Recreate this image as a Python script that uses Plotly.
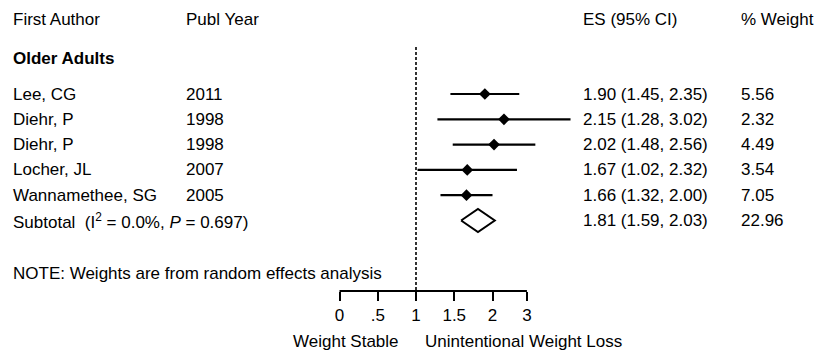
import plotly.graph_objects as go

authors = ["Lee, CG", "Diehr, P", "Diehr, P", "Locher, JL", "Wannamethee, SG"]
years = ["2011", "1998", "1998", "2007", "2005"]
es = [1.90, 2.15, 2.02, 1.67, 1.66]
lo = [1.45, 1.28, 1.48, 1.02, 1.32]
hi = [2.35, 3.02, 2.56, 2.32, 2.00]
weights = ["5.56", "2.32", "4.49", "3.54", "7.05"]
sub_es, sub_lo, sub_hi, sub_w = 1.81, 1.59, 2.03, "22.96"
tick_vals = [0, 0.5, 1, 1.5, 2, 2.45]
tick_text = ["0", ".5", "1", "1.5", "2", "3"]

W, H = 815, 352
FONT = "Liberation Sans, Arial, sans-serif"
FS = 17
rows = list(range(len(es)))
sub_row = len(es)

fig = go.Figure()

# study estimates with CIs
fig.add_trace(go.Scatter(
    x=es, y=rows, mode="markers",
    marker=dict(symbol="diamond", size=9, color="black"),
    error_x=dict(type="data", symmetric=False,
                 array=[h - e for h, e in zip(hi, es)],
                 arrayminus=[e - l for e, l in zip(es, lo)],
                 thickness=2.2, width=0, color="black"),
    showlegend=False, hoverinfo="skip", cliponaxis=False))

# subtotal diamond
dh = 0.46
fig.add_trace(go.Scatter(
    x=[sub_lo, sub_es, sub_hi, sub_es, sub_lo],
    y=[sub_row, sub_row - dh, sub_row, sub_row + dh, sub_row],
    mode="lines", line=dict(color="black", width=2),
    showlegend=False, hoverinfo="skip"))

px_per_unit = 76.5
x0_px = 339.5
xr = [-x0_px / px_per_unit, (W - x0_px) / px_per_unit]
plot_bottom = 291
y_of = lambda p: (p - 94) / 25.3
yr = [y_of(plot_bottom), y_of(0)]

ann = []
def txt(xpx, y, s, yref="y"):
    ann.append(dict(x=xpx / W, xref="paper", y=y, yref=yref, text=s,
                    showarrow=False, xanchor="left", yanchor="middle",
                    font=dict(family=FONT, size=FS, color="black")))

hy = y_of(19)
txt(11, hy, "First Author")
txt(184, hy, "Publ Year")
txt(581, hy, "ES (95% CI)")
txt(738.5, hy, "% Weight")
txt(11, y_of(58), "<b>Older Adults</b>")
for i in rows:
    txt(11, i, authors[i])
    txt(184, i, years[i])
    txt(581, i, f"{es[i]:.2f} ({lo[i]:.2f}, {hi[i]:.2f})")
    txt(738.5, i, weights[i])
txt(11, sub_row, "Subtotal&nbsp; (I<sup>2</sup> = 0.0%, <i>P</i> = 0.697)")
txt(581, sub_row, f"{sub_es:.2f} ({sub_lo:.2f}, {sub_hi:.2f})")
txt(738.5, sub_row, sub_w)
txt(11, y_of(273), "NOTE: Weights are from random effects analysis")

for label, cx in [("Weight Stable", 346), ("Unintentional Weight Loss", 523)]:
    ann.append(dict(x=cx / W, xref="paper", y=(plot_bottom - 341) / plot_bottom,
                    yref="paper", text=label, showarrow=False,
                    xanchor="center", yanchor="middle",
                    font=dict(family=FONT, size=FS, color="black")))

shapes = [
    dict(type="line", xref="x", yref="y", x0=1, x1=1, y0=y_of(47), y1=yr[0],
         line=dict(color="black", width=1.6, dash="3px,2px")),
    dict(type="line", xref="x", yref="paper", x0=tick_vals[0], x1=tick_vals[-1],
         y0=0, y1=0, line=dict(color="black", width=2)),
]

fig.update_layout(
    width=W, height=H, margin=dict(l=0, r=0, t=0, b=H - plot_bottom),
    paper_bgcolor="white", plot_bgcolor="white",
    annotations=ann, shapes=shapes,
    xaxis=dict(range=xr, tickvals=tick_vals, ticktext=tick_text,
               ticks="outside", ticklen=9, tickwidth=2, tickcolor="black",
               showgrid=False, zeroline=False, showline=False,
               tickfont=dict(family=FONT, size=FS, color="black"),
               fixedrange=True),
    yaxis=dict(range=yr, visible=False, showgrid=False, zeroline=False,
               fixedrange=True),
    font=dict(family=FONT, size=FS, color="black"),
)

fig.write_html("out.html")
